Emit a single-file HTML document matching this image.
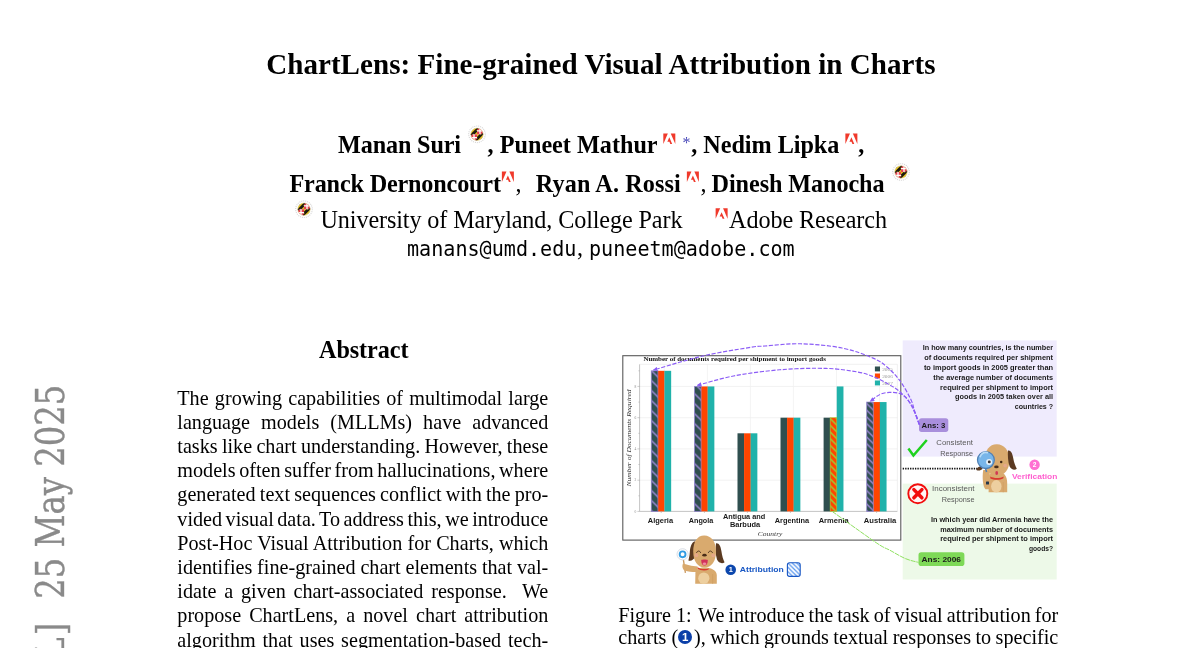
<!DOCTYPE html>
<html lang="en">
<head>
<meta charset="utf-8">
<title>ChartLens: Fine-grained Visual Attribution in Charts</title>
<style>
html,body{margin:0;padding:0;background:#fff;}
body{width:1200px;height:648px;overflow:hidden;position:relative;font-family:"Liberation Serif",serif;color:#000;}
.l{position:absolute;white-space:pre;line-height:1;margin:0;}
.cn{position:absolute;width:14.2px;height:14.2px;border-radius:50%;background:#0b3fa8;color:#fff;font:bold 11.5px/14.4px "Liberation Sans",sans-serif;text-align:center;}
#stamp{position:absolute;left:0;top:0;transform-origin:0 0;font-family:"DejaVu Serif",serif;font-stretch:condensed;font-size:38.8px;color:#8a8a8a;-webkit-text-stroke:0.35px #8a8a8a;white-space:pre;line-height:1;}
svg{position:absolute;overflow:visible;}
</style>
</head>
<body>
<div class="l " style="left:266.20px;top:50.28px;font-size:29.04px;font-weight:bold;letter-spacing:0.046px;">ChartLens: Fine-grained Visual Attribution in Charts</div>
<div class="l " style="left:338.00px;top:133.33px;font-size:24.2px;font-weight:bold;letter-spacing:-0.148px;">Manan Suri</div>
<div class="l " style="left:487.60px;top:133.33px;font-size:24.2px;font-weight:bold;letter-spacing:0.002px;">, Puneet Mathur</div>
<div class="l " style="left:691.20px;top:133.33px;font-size:24.2px;font-weight:bold;letter-spacing:-0.026px;">, Nedim Lipka</div>
<div class="l " style="left:858.30px;top:133.33px;font-size:24.2px;font-weight:bold;">,</div>
<div class="l " style="left:682.60px;top:134.90px;font-size:16px;color:#4848b8;">*</div>
<div class="l " style="left:289.50px;top:171.53px;font-size:24.2px;font-weight:bold;letter-spacing:-0.165px;">Franck Dernoncourt</div>
<div class="l " style="left:515.60px;top:171.53px;font-size:24.2px;">,</div>
<div class="l " style="left:535.80px;top:171.53px;font-size:24.2px;font-weight:bold;letter-spacing:0.113px;">Ryan A. Rossi</div>
<div class="l " style="left:700.40px;top:171.53px;font-size:24.2px;">,</div>
<div class="l " style="left:711.60px;top:171.53px;font-size:24.2px;font-weight:bold;letter-spacing:-0.081px;">Dinesh Manocha</div>
<div class="l " style="left:320.50px;top:207.83px;font-size:24.2px;letter-spacing:-0.117px;">University of Maryland, College Park</div>
<div class="l " style="left:729.00px;top:207.83px;font-size:24.2px;letter-spacing:-0.090px;">Adobe Research</div>
<div class="l" style="left:407.30px;top:238.40px;font-size:21.4px;font-family:'DejaVu Sans Mono', 'Liberation Mono', monospace;transform-origin:0 0;transform:scaleX(0.9396);">manans@umd.edu</div>
<div class="l " style="left:577.00px;top:235.83px;font-size:24.2px;">,</div>
<div class="l" style="left:588.60px;top:238.40px;font-size:21.4px;font-family:'DejaVu Sans Mono', 'Liberation Mono', monospace;transform-origin:0 0;transform:scaleX(0.9395);">puneetm@adobe.com</div>
<div class="l " style="left:319.00px;top:338.13px;font-size:24.2px;font-weight:bold;letter-spacing:-0.074px;">Abstract</div>
<div class="l " style="left:177.30px;top:387.51px;font-size:20.17px;word-spacing:1.169px;">The growing capabilities of multimodal large</div>
<div class="l " style="left:177.30px;top:411.71px;font-size:20.17px;word-spacing:5.992px;">language models (MLLMs) have advanced</div>
<div class="l " style="left:177.30px;top:435.91px;font-size:20.17px;word-spacing:-0.756px;">tasks like chart understanding. However, these</div>
<div class="l " style="left:177.30px;top:460.11px;font-size:20.17px;word-spacing:-1.403px;">models often suffer from hallucinations, where</div>
<div class="l " style="left:177.30px;top:484.31px;font-size:20.17px;word-spacing:-0.852px;">generated text sequences conflict with the pro-</div>
<div class="l " style="left:177.30px;top:508.51px;font-size:20.17px;word-spacing:-1.525px;">vided visual data. To address this, we introduce</div>
<div class="l " style="left:177.30px;top:532.71px;font-size:20.17px;word-spacing:0.166px;">Post-Hoc Visual Attribution for Charts, which</div>
<div class="l " style="left:177.30px;top:556.91px;font-size:20.17px;word-spacing:-0.237px;">identifies fine-grained chart elements that val-</div>
<div class="l " style="left:177.30px;top:581.11px;font-size:20.17px;word-spacing:2.747px;">idate a given chart-associated response.&nbsp; We</div>
<div class="l " style="left:177.30px;top:605.31px;font-size:20.17px;word-spacing:3.000px;">propose ChartLens, a novel chart attribution</div>
<div class="l " style="left:177.30px;top:629.51px;font-size:20.17px;word-spacing:1.793px;">algorithm that uses segmentation-based tech-</div>
<div class="l " style="left:618.30px;top:604.51px;font-size:20.17px;">Figure 1:</div>
<div class="l " style="left:698.00px;top:604.51px;font-size:20.17px;word-spacing:-0.995px;">We introduce the task of visual attribution for</div>
<div class="l " style="left:618.30px;top:627.01px;font-size:20.17px;">charts (</div>
<div class="cn" style="left:678.2px;top:630.1px;">1</div>
<div class="l " style="left:694.00px;top:627.01px;font-size:20.17px;word-spacing:-0.578px;">), which grounds textual responses to specific</div>
<svg style="left:0;top:100px;" width="1200" height="140" viewBox="0 100 1200 140">
<defs>
<clipPath id="gc"><circle cx="0" cy="0" r="6.2"/></clipPath>
<g id="umd">
<circle cx="0" cy="0" r="8.3" fill="#fff" stroke="#cfcfcf" stroke-width="1.1" stroke-dasharray="1.1 0.9" opacity="0.8"/>
<g clip-path="url(#gc)">
<rect x="-7" y="-7" width="7" height="7" fill="#e6c21c"/>
<rect x="0" y="0" width="7" height="7" fill="#e6c21c"/>
<rect x="0" y="-7" width="7" height="7" fill="#e4414c"/>
<rect x="-7" y="0" width="7" height="7" fill="#e4414c"/>
<path d="M-7,-3 L-3,-7 M-7,1.5 L1.5,-7 M-3.4,-0.2 L-0.2,-3.4" stroke="#1c1a10" stroke-width="1.5"/>
<path d="M0.2,3.4 L3.4,0.2 M-1.5,7 L7,-1.5 M3,7 L7,3" stroke="#1c1a10" stroke-width="1.5"/>
<path d="M3,-7 V0 M0,-3.4 H7" stroke="#fff" stroke-width="1.3"/>
<path d="M-3,0 V7 M-7,3.4 H0" stroke="#fff" stroke-width="1.3"/>
</g>
<circle cx="0" cy="0" r="6.2" fill="none" stroke="#d9c98a" stroke-width="0.5"/>
</g>
<g id="adobe" fill="#f0392b">
<polygon points="11.4,0 0,0 0,26"/>
<polygon points="18.6,0 30,0 30,26"/>
<polygon points="15,9.6 22.2,26 17.5,26 15.3,20.6 10.1,20.6"/>
</g>
</defs>
<use href="#umd" transform="translate(477.0,134.3)"/>
<use href="#umd" transform="translate(901.0,172.0)"/>
<use href="#umd" transform="translate(304.0,209.2)"/>
<use href="#adobe" transform="translate(663.3000000000001,133.5) scale(0.4000)"/>
<use href="#adobe" transform="translate(845.4000000000001,133.5) scale(0.4000)"/>
<use href="#adobe" transform="translate(501.9,171.6) scale(0.4000)"/>
<use href="#adobe" transform="translate(686.9000000000001,171.6) scale(0.4000)"/>
<use href="#adobe" transform="translate(715.6,208.3) scale(0.4000)"/>
</svg>
<svg style="left:600px;top:330px;filter:blur(0.3px);" width="480" height="262" viewBox="600 330 480 262">
<defs>
<pattern id="hp" width="10" height="10" patternUnits="userSpaceOnUse" x="651.3" y="370.4"><path d="M-2,-2 L12,12 M-2,-12 L12,2 M-2,8 L12,22" stroke="#a98de6" stroke-width="1.25" fill="none"/></pattern>
<pattern id="hg" width="6.7" height="6.7" patternUnits="userSpaceOnUse" x="830.2" y="418.6"><path d="M-2,-2 L8.7,8.7 M-2,-8.7 L8.7,2 M-2,4.7 L8.7,15.4" stroke="#9ad033" stroke-width="1.5" fill="none"/></pattern>
<pattern id="hp2" width="6.7" height="6.7" patternUnits="userSpaceOnUse" x="866.7" y="403.5"><path d="M-2,-2 L8.7,8.7 M-2,-8.7 L8.7,2 M-2,4.7 L8.7,15.4" stroke="#a98de6" stroke-width="1.2" fill="none"/></pattern>
<pattern id="hb" width="4.4" height="4.4" patternUnits="userSpaceOnUse" x="787" y="562"><path d="M-1,-1 L5.4,5.4 M-1,-5.4 L5.4,1 M-1,3.4 L5.4,9.8" stroke="#5a97ee" stroke-width="1.25" fill="none"/></pattern>
<marker id="ah" viewBox="0 0 10 10" refX="8" refY="5" markerWidth="4.2" markerHeight="4.2" orient="auto"><path d="M0,0.5 L10,5 L0,9.5 z" fill="#8b5cf6"/></marker>
</defs>
<rect x="902.7" y="340.4" width="154" height="116.2" fill="#efebfd"/>
<rect x="902.7" y="483.6" width="154" height="95.9" fill="#edf9e8"/>
<rect x="622.8" y="355.7" width="278" height="184.4" fill="#fff" stroke="#5a5a5a" stroke-width="1.1"/>
<line x1="639.6" y1="480.2" x2="897.4" y2="480.2" stroke="#ececec" stroke-width="0.7"/>
<line x1="639.6" y1="448.9" x2="897.4" y2="448.9" stroke="#ececec" stroke-width="0.7"/>
<line x1="639.6" y1="417.7" x2="897.4" y2="417.7" stroke="#ececec" stroke-width="0.7"/>
<line x1="639.6" y1="386.4" x2="897.4" y2="386.4" stroke="#ececec" stroke-width="0.7"/>
<line x1="664.2" y1="364.3" x2="664.2" y2="511.4" stroke="#efefef" stroke-width="0.7"/>
<line x1="707.4" y1="364.3" x2="707.4" y2="511.4" stroke="#efefef" stroke-width="0.7"/>
<line x1="750.4" y1="364.3" x2="750.4" y2="511.4" stroke="#efefef" stroke-width="0.7"/>
<line x1="793.4" y1="364.3" x2="793.4" y2="511.4" stroke="#efefef" stroke-width="0.7"/>
<line x1="836.5" y1="364.3" x2="836.5" y2="511.4" stroke="#efefef" stroke-width="0.7"/>
<line x1="879.6" y1="364.3" x2="879.6" y2="511.4" stroke="#efefef" stroke-width="0.7"/>
<path d="M639.6,364.3 V511.4 H897.4" fill="none" stroke="#b5b5b5" stroke-width="0.8"/>
<path d="M639.6,364.3 H897.4 V511.4" fill="none" stroke="#e6e6e6" stroke-width="0.6"/>
<line x1="637.4" y1="511.4" x2="639.6" y2="511.4" stroke="#9a9a9a" stroke-width="0.5"/>
<text x="636.4" y="512.6" font-family="'Liberation Serif', serif" font-size="3.6" fill="#8a8a8a" text-anchor="end">0</text>
<line x1="638.4" y1="495.8" x2="639.6" y2="495.8" stroke="#9a9a9a" stroke-width="0.5"/>
<line x1="637.4" y1="480.2" x2="639.6" y2="480.2" stroke="#9a9a9a" stroke-width="0.5"/>
<text x="636.4" y="481.4" font-family="'Liberation Serif', serif" font-size="3.6" fill="#8a8a8a" text-anchor="end">2</text>
<line x1="638.4" y1="464.5" x2="639.6" y2="464.5" stroke="#9a9a9a" stroke-width="0.5"/>
<line x1="637.4" y1="448.9" x2="639.6" y2="448.9" stroke="#9a9a9a" stroke-width="0.5"/>
<text x="636.4" y="450.1" font-family="'Liberation Serif', serif" font-size="3.6" fill="#8a8a8a" text-anchor="end">4</text>
<line x1="638.4" y1="433.3" x2="639.6" y2="433.3" stroke="#9a9a9a" stroke-width="0.5"/>
<line x1="637.4" y1="417.7" x2="639.6" y2="417.7" stroke="#9a9a9a" stroke-width="0.5"/>
<text x="636.4" y="418.9" font-family="'Liberation Serif', serif" font-size="3.6" fill="#8a8a8a" text-anchor="end">6</text>
<line x1="638.4" y1="402.1" x2="639.6" y2="402.1" stroke="#9a9a9a" stroke-width="0.5"/>
<line x1="637.4" y1="386.4" x2="639.6" y2="386.4" stroke="#9a9a9a" stroke-width="0.5"/>
<text x="636.4" y="387.6" font-family="'Liberation Serif', serif" font-size="3.6" fill="#8a8a8a" text-anchor="end">8</text>
<line x1="638.4" y1="370.8" x2="639.6" y2="370.8" stroke="#9a9a9a" stroke-width="0.5"/>
<rect x="651.30" y="370.82" width="6.72" height="140.58" fill="#2f4f4f"/>
<rect x="657.87" y="370.82" width="6.72" height="140.58" fill="#ff4500"/>
<rect x="664.44" y="370.82" width="6.72" height="140.58" fill="#20b2aa"/>
<rect x="694.50" y="386.44" width="6.72" height="124.96" fill="#2f4f4f"/>
<rect x="701.07" y="386.44" width="6.72" height="124.96" fill="#ff4500"/>
<rect x="707.64" y="386.44" width="6.72" height="124.96" fill="#20b2aa"/>
<rect x="737.50" y="433.30" width="6.72" height="78.10" fill="#2f4f4f"/>
<rect x="744.07" y="433.30" width="6.72" height="78.10" fill="#ff4500"/>
<rect x="750.64" y="433.30" width="6.72" height="78.10" fill="#20b2aa"/>
<rect x="780.50" y="417.68" width="6.72" height="93.72" fill="#2f4f4f"/>
<rect x="787.07" y="417.68" width="6.72" height="93.72" fill="#ff4500"/>
<rect x="793.64" y="417.68" width="6.72" height="93.72" fill="#20b2aa"/>
<rect x="823.60" y="417.68" width="6.72" height="93.72" fill="#2f4f4f"/>
<rect x="830.17" y="417.68" width="6.72" height="93.72" fill="#ff4500"/>
<rect x="836.74" y="386.44" width="6.72" height="124.96" fill="#20b2aa"/>
<rect x="866.70" y="402.06" width="6.72" height="109.34" fill="#2f4f4f"/>
<rect x="873.27" y="402.06" width="6.72" height="109.34" fill="#ff4500"/>
<rect x="879.84" y="402.06" width="6.72" height="109.34" fill="#20b2aa"/>
<rect x="651.30" y="370.82" width="6.57" height="140.58" fill="url(#hp)" stroke="#8f7fd0" stroke-opacity="0.75" stroke-width="0.9"/>
<rect x="694.50" y="386.44" width="6.57" height="124.96" fill="url(#hp)" stroke="#8f7fd0" stroke-opacity="0.75" stroke-width="0.9"/>
<rect x="866.70" y="402.06" width="6.57" height="109.34" fill="url(#hp2)" stroke="#8f7fd0" stroke-opacity="0.75" stroke-width="0.9"/>
<rect x="830.17" y="417.68" width="6.57" height="93.72" fill="url(#hg)" stroke="#9ad033" stroke-opacity="0.7" stroke-width="0.8"/>
<line x1="661.2" y1="511.4" x2="661.2" y2="513.0" stroke="#9a9a9a" stroke-width="0.5"/>
<line x1="704.4" y1="511.4" x2="704.4" y2="513.0" stroke="#9a9a9a" stroke-width="0.5"/>
<line x1="747.4" y1="511.4" x2="747.4" y2="513.0" stroke="#9a9a9a" stroke-width="0.5"/>
<line x1="790.4" y1="511.4" x2="790.4" y2="513.0" stroke="#9a9a9a" stroke-width="0.5"/>
<line x1="833.5" y1="511.4" x2="833.5" y2="513.0" stroke="#9a9a9a" stroke-width="0.5"/>
<line x1="876.6" y1="511.4" x2="876.6" y2="513.0" stroke="#9a9a9a" stroke-width="0.5"/>
<text x="643.4" y="360.6" font-family="'Liberation Serif', serif" font-weight="bold" font-size="6.4" fill="#111" textLength="182.5" lengthAdjust="spacingAndGlyphs">Number of documents required per shipment to import goods</text>
<text transform="translate(631.2,486.5) rotate(-90)" font-family="'Liberation Serif', serif" font-style="italic" font-size="6.6" fill="#333" textLength="97" lengthAdjust="spacingAndGlyphs">Number of Documents Required</text>
<text x="757.8" y="536.3" font-family="'Liberation Serif', serif" font-style="italic" font-size="7" fill="#333" textLength="24.6" lengthAdjust="spacingAndGlyphs">Country</text>
<rect x="874.9" y="366.5" width="5.1" height="4.9" fill="#2f4f4f"/>
<text x="882.2" y="370.7" font-family="'Liberation Serif', serif" font-size="4.6" fill="#9a9a9a" textLength="10.6" lengthAdjust="spacingAndGlyphs">2005</text>
<rect x="874.9" y="373.5" width="5.1" height="4.9" fill="#ff4500"/>
<text x="882.2" y="377.7" font-family="'Liberation Serif', serif" font-size="4.6" fill="#9a9a9a" textLength="10.6" lengthAdjust="spacingAndGlyphs">2006</text>
<rect x="874.9" y="380.5" width="5.1" height="4.9" fill="#20b2aa"/>
<text x="882.2" y="384.7" font-family="'Liberation Serif', serif" font-size="4.6" fill="#9a9a9a" textLength="10.6" lengthAdjust="spacingAndGlyphs">2007</text>
<text x="647.8" y="523.1" font-family="'Liberation Sans', sans-serif" font-weight="bold" font-size="7.8" fill="#1a1a1a" textLength="25.3" lengthAdjust="spacingAndGlyphs">Algeria</text>
<text x="688.8" y="523.1" font-family="'Liberation Sans', sans-serif" font-weight="bold" font-size="7.8" fill="#1a1a1a" textLength="24.5" lengthAdjust="spacingAndGlyphs">Angola</text>
<text x="722.9" y="519.2" font-family="'Liberation Sans', sans-serif" font-weight="bold" font-size="7.8" fill="#1a1a1a" textLength="42.4" lengthAdjust="spacingAndGlyphs">Antigua and</text>
<text x="730.0" y="526.7" font-family="'Liberation Sans', sans-serif" font-weight="bold" font-size="7.8" fill="#1a1a1a" textLength="30.1" lengthAdjust="spacingAndGlyphs">Barbuda</text>
<text x="774.8" y="523.1" font-family="'Liberation Sans', sans-serif" font-weight="bold" font-size="7.8" fill="#1a1a1a" textLength="34.4" lengthAdjust="spacingAndGlyphs">Argentina</text>
<text x="818.7" y="523.1" font-family="'Liberation Sans', sans-serif" font-weight="bold" font-size="7.8" fill="#1a1a1a" textLength="30.1" lengthAdjust="spacingAndGlyphs">Armenia</text>
<text x="863.8" y="523.1" font-family="'Liberation Sans', sans-serif" font-weight="bold" font-size="7.8" fill="#1a1a1a" textLength="32.5" lengthAdjust="spacingAndGlyphs">Australia</text>
<text x="922.7" y="350.1" font-family="'Liberation Sans', sans-serif" font-weight="bold" font-size="6.9" fill="#1a1a1a" textLength="130.4" lengthAdjust="spacingAndGlyphs">In how many countries, is the number</text>
<text x="924.2" y="360.0" font-family="'Liberation Sans', sans-serif" font-weight="bold" font-size="6.9" fill="#1a1a1a" textLength="128.9" lengthAdjust="spacingAndGlyphs">of documents required per shipment</text>
<text x="923.9" y="369.8" font-family="'Liberation Sans', sans-serif" font-weight="bold" font-size="6.9" fill="#1a1a1a" textLength="129.2" lengthAdjust="spacingAndGlyphs">to import goods in 2005 greater than</text>
<text x="933.2" y="379.7" font-family="'Liberation Sans', sans-serif" font-weight="bold" font-size="6.9" fill="#1a1a1a" textLength="119.9" lengthAdjust="spacingAndGlyphs">the average number of documents</text>
<text x="940.1" y="389.5" font-family="'Liberation Sans', sans-serif" font-weight="bold" font-size="6.9" fill="#1a1a1a" textLength="113.0" lengthAdjust="spacingAndGlyphs">required per shipment to import</text>
<text x="955.1" y="399.4" font-family="'Liberation Sans', sans-serif" font-weight="bold" font-size="6.9" fill="#1a1a1a" textLength="98.0" lengthAdjust="spacingAndGlyphs">goods in 2005 taken over all</text>
<text x="1014.8" y="409.2" font-family="'Liberation Sans', sans-serif" font-weight="bold" font-size="6.9" fill="#1a1a1a" textLength="38.3" lengthAdjust="spacingAndGlyphs">countries ?</text>
<text x="930.9" y="522.0" font-family="'Liberation Sans', sans-serif" font-weight="bold" font-size="6.9" fill="#1a1a1a" textLength="122.2" lengthAdjust="spacingAndGlyphs">In which year did Armenia have the</text>
<text x="940.2" y="531.5" font-family="'Liberation Sans', sans-serif" font-weight="bold" font-size="6.9" fill="#1a1a1a" textLength="112.9" lengthAdjust="spacingAndGlyphs">maximum number of documents</text>
<text x="940.2" y="540.9" font-family="'Liberation Sans', sans-serif" font-weight="bold" font-size="6.9" fill="#1a1a1a" textLength="112.9" lengthAdjust="spacingAndGlyphs">required per shipment to import</text>
<text x="1028.9" y="550.6" font-family="'Liberation Sans', sans-serif" font-weight="bold" font-size="6.9" fill="#1a1a1a" textLength="24.2" lengthAdjust="spacingAndGlyphs">goods?</text>
<rect x="919" y="418.3" width="29.3" height="13.6" rx="2.6" fill="#a98fdc"/>
<text x="921.6" y="427.6" font-family="'Liberation Sans', sans-serif" font-weight="bold" font-size="7.6" fill="#1a1a1a" textLength="23.6" lengthAdjust="spacingAndGlyphs">Ans: 3</text>
<rect x="918.5" y="552.2" width="45.9" height="13.8" rx="2.8" fill="#7ed957"/>
<text x="921.6" y="562.0" font-family="'Liberation Sans', sans-serif" font-weight="bold" font-size="7.6" fill="#1a1a1a" textLength="39.4" lengthAdjust="spacingAndGlyphs">Ans: 2006</text>
<text x="936.3" y="445.4" font-family="'Liberation Sans', sans-serif" font-weight="normal" font-size="7.3" fill="#595959" textLength="36.7" lengthAdjust="spacingAndGlyphs">Consistent</text>
<text x="940.2" y="455.9" font-family="'Liberation Sans', sans-serif" font-weight="normal" font-size="7.3" fill="#595959" textLength="32.8" lengthAdjust="spacingAndGlyphs">Response</text>
<text x="932.0" y="491.0" font-family="'Liberation Sans', sans-serif" font-weight="normal" font-size="7.3" fill="#595959" textLength="42.6" lengthAdjust="spacingAndGlyphs">Inconsistent</text>
<text x="941.7" y="501.7" font-family="'Liberation Sans', sans-serif" font-weight="normal" font-size="7.3" fill="#595959" textLength="32.9" lengthAdjust="spacingAndGlyphs">Response</text>
<path d="M908.4,448.6 L913.4,455.6 L926.8,440" fill="none" stroke="#1fd21f" stroke-width="2.5" stroke-linejoin="miter"/>
<circle cx="917.8" cy="493.7" r="9.5" fill="#fff5f5" stroke="#f20d0d" stroke-width="1.9"/>
<path d="M913.9,489.6 L921.9,497.8 M921.9,489.6 L913.9,497.8" stroke="#f20d0d" stroke-width="3.5" stroke-linecap="round"/>
<line x1="902.7" y1="468.7" x2="977" y2="468.7" stroke="#111" stroke-width="1.7" stroke-dasharray="1.35 1.1"/>
<circle cx="1034.6" cy="464.8" r="5.2" fill="#ff6fd2"/>
<text x="1034.6" y="467.3" font-family="'Liberation Sans', sans-serif" font-weight="bold" font-size="6.6" fill="#fff" text-anchor="middle">2</text>
<text x="1011.9" y="479.0" font-family="'Liberation Sans', sans-serif" font-weight="bold" font-size="7.5" fill="#ff5fcf" textLength="45.5" lengthAdjust="spacingAndGlyphs">Verification</text>
<circle cx="730.7" cy="569.7" r="5.3" fill="#0c47ad"/>
<text x="730.7" y="572.4" font-family="'Liberation Sans', sans-serif" font-weight="bold" font-size="7.4" fill="#fff" text-anchor="middle">1</text>
<text x="739.8" y="571.9" font-family="'Liberation Sans', sans-serif" font-weight="bold" font-size="7.5" fill="#1857c4" textLength="44.0" lengthAdjust="spacingAndGlyphs">Attribution</text>
<rect x="787.4" y="562.8" width="12.8" height="13.6" rx="2.2" fill="url(#hb)" stroke="#1857c4" stroke-width="1.1"/>
<path d="M919.3,424.6 C918.5,422.5 916.1,416.3 914.7,412.2 C913.4,408.1 913.6,405.4 911.2,400.2 C908.8,395.0 904.1,386.5 900.1,381.0 C896.1,375.5 891.5,370.8 887.0,367.0 C882.5,363.2 880.5,361.3 873.0,358.1 C865.5,354.9 854.1,350.4 842.0,348.0 C829.9,345.6 813.3,344.1 800.5,343.8 C787.7,343.5 773.6,345.4 765.0,346.0 C756.4,346.6 759.3,345.9 748.9,347.6 C738.5,349.3 718.5,352.3 702.6,356.0 C686.7,359.7 661.8,367.7 653.6,370.0" stroke="#8b5cf6" stroke-width="1.15" fill="none" stroke-dasharray="4.2 1.6" marker-end="url(#ah)"/>
<path d="M919.3,424.6 C918.5,422.6 916.5,416.3 914.7,412.4 C912.9,408.5 911.1,404.6 908.5,401.0 C905.9,397.4 902.3,393.8 899.0,391.0 C895.7,388.2 892.8,386.6 888.5,384.2 C884.2,381.8 878.1,378.5 873.0,376.5 C867.9,374.5 865.4,373.4 857.6,372.0 C849.8,370.6 839.0,368.8 826.0,368.4 C813.0,368.0 795.2,368.5 779.8,369.8 C764.4,371.1 747.2,373.4 733.5,376.0 C719.8,378.6 703.6,383.8 697.6,385.3" stroke="#8b5cf6" stroke-width="1.15" fill="none" stroke-dasharray="4.2 1.6" marker-end="url(#ah)"/>
<path d="M919.3,424.6 C918.7,422.8 917.0,417.1 915.8,414.0 C914.6,410.9 914.0,408.9 912.2,406.0 C910.4,403.1 907.5,398.8 905.0,396.6 C902.5,394.4 900.1,393.7 897.5,393.0 C894.9,392.3 892.4,392.2 889.5,392.4 C886.6,392.6 883.2,392.9 880.0,394.4 C876.8,395.9 872.0,400.1 870.4,401.2" stroke="#8b5cf6" stroke-width="1.15" fill="none" stroke-dasharray="4.2 1.6" marker-end="url(#ah)"/>
<path d="M832.2,511.4 C836.2,514.2 848.1,522.9 856.0,528.5 C863.9,534.1 874.0,541.4 879.7,545.0 C885.4,548.6 885.7,548.0 890.0,550.3 C894.3,552.6 900.6,556.6 905.4,558.6 C910.1,560.6 916.3,561.8 918.5,562.4" stroke="#8fe060" stroke-width="1.0" fill="none" stroke-dasharray="5 0.8"/>
<path d="M988.6,492.3 L988.9,481 C988,476 990,471 997,471 C1004,471 1007.4,477 1007.2,483 L1007.2,492.3 Z" fill="#d9aa6e"/>
<ellipse cx="996.3" cy="486.3" rx="5.2" ry="6.2" fill="#edcf9f"/>
<path d="M1003.2,482 L1003.2,492.3" stroke="#cf9e62" stroke-width="0.7"/>
<path d="M983.2,470 C982,478 983,487 985.5,489.2 L989.6,489.2 C990.6,483 990,476 989.5,470 Z" fill="#d9aa6e"/>
<rect x="986.0" y="481.4" width="3.0" height="3.0" rx="0.5" fill="#26384c"/>
<path d="M981.2,466.6 C978.5,466.4 976.6,468 976.4,470 C978.5,471.2 981,470.4 982.6,468.8 Z" fill="#5b3a21"/>
<path d="M997,444.3 C990,444 984.6,450 984.6,460 C984.6,470 989.5,475.6 997,475.6 C1004.5,475.6 1009.4,470 1009.4,460 C1009.4,450 1004,444.6 997,444.3 Z" fill="#d9aa6e"/>
<path d="M1008.0,450.6 C1010.6,450 1012.4,453 1013.2,458 C1014,463 1015.6,466.4 1016.8,468.8 C1014.6,471 1011,469.4 1009.6,466.6 C1008.0,462 1007.6,455 1008.0,450.6 Z" fill="#5b3a21"/>
<circle cx="1001.2" cy="461.9" r="1.25" fill="#3d2614"/>
<ellipse cx="996.4" cy="466.9" rx="2.3" ry="1.45" fill="#4a2d18"/>
<circle cx="1005.2" cy="465.6" r="1.9" fill="#e8a890" opacity="0.8"/>
<ellipse cx="996.7" cy="473.0" rx="1.4" ry="2.1" fill="#d23a55"/>
<path d="M990.2,476.6 C994,478.6 1000,478.6 1003.6,476.4 L1003.4,478.2 C1000,480.2 994,480.2 990.4,478.4 Z" fill="#d8392f"/>
<circle cx="985.9" cy="460.1" r="8.4" fill="#78b6ea" stroke="#4f7fb4" stroke-width="1.3"/>
<path d="M980.2,456.6 C981.4,453.6 984.4,452 987.4,452.6" stroke="#b9dcf7" stroke-width="1.6" fill="none" stroke-linecap="round"/>
<circle cx="989.1" cy="461.9" r="3.0" fill="#e9f1f8"/>
<circle cx="989.3" cy="461.9" r="1.45" fill="#33302f"/>
<path d="M985.6,468.6 L986.6,472" stroke="#4f7fb4" stroke-width="1.6"/>
<path d="M683.4,559.6 L685.4,572.8" stroke="#c9975c" stroke-width="1.3"/>
<path d="M695.2,583.8 L695.4,574 C695,570 698,567.4 704,567.4 C711,567.4 716.6,570 716.8,575 L716.8,583.8 Z" fill="#d9aa6e"/>
<ellipse cx="703.8" cy="578.2" rx="5.6" ry="5.8" fill="#edcf9f"/>
<path d="M712.6,574 L712.6,583.8" stroke="#cf9e62" stroke-width="0.7"/>
<path d="M697.6,566.6 C692,566.4 686,564.6 683,563.6 C681.8,566 682.6,569.4 684.4,570.4 C689,571.6 694,572.4 697.6,572 Z" fill="#d9aa6e"/>
<path d="M695.0,541.2 C691.6,542 690.2,547 689.8,552 C689.6,556 688.8,558.6 688.4,560.4 C691,561.4 694,559.6 695.2,556.4 C696.4,551 696,545 695.0,541.2 Z" fill="#5b3a21"/>
<path d="M716.0,543.2 C719.2,542.8 720.6,546 721.4,551 C722,556 723.4,560 724.6,562.2 C722.2,564.4 718.4,562.8 717,559.6 C715.4,554 715.4,548 716.0,543.2 Z" fill="#5b3a21"/>
<path d="M704.4,535.6 C697.6,535.4 693.2,541.6 693.2,551.6 C693.2,561.6 698,567.6 704.6,567.6 C711.4,567.6 716,561.6 716,551.6 C716,541.6 711.2,535.8 704.4,535.6 Z" fill="#d9aa6e"/>
<path d="M696.6,552.6 C697.4,550.4 699.8,550.4 700.6,552.6" stroke="#3d2614" stroke-width="0.85" fill="none" stroke-linecap="round"/>
<path d="M708.4,552.6 C709.2,550.4 711.6,550.4 712.4,552.6" stroke="#3d2614" stroke-width="0.85" fill="none" stroke-linecap="round"/>
<ellipse cx="704.5" cy="555.2" rx="2.2" ry="1.4" fill="#4a2d18"/>
<circle cx="696.4" cy="555.2" r="1.9" fill="#e8a890" opacity="0.8"/>
<circle cx="713.2" cy="555.4" r="1.9" fill="#e8a890" opacity="0.8"/>
<path d="M701.2,560 C702.4,559.2 706.6,559.2 707.8,560 C707.8,563.6 706.4,565.6 704.5,565.6 C702.6,565.6 701.2,563.6 701.2,560 Z" fill="#d2325a"/>
<ellipse cx="704.5" cy="563.8" rx="1.8" ry="1.3" fill="#f08aa0"/>
<path d="M697.6,567.2 C700.6,569.4 706,569.6 708.8,568.2 L708.6,569.6 C705.6,571 700.4,570.8 697.4,568.6 Z" fill="#d8392f"/>
<circle cx="682.6" cy="554.3" r="5.6" fill="#fdfdfd" stroke="#d4d9e2" stroke-width="0.9"/>
<circle cx="682.6" cy="554.3" r="2.9" fill="none" stroke="#2f9be3" stroke-width="1.9"/>
</svg>
<div id="stamp" style="transform:translate(32.1px,1091.9px) rotate(-90deg) scaleX(0.924);">arXiv:2505.19360v1  [cs.CL<span style="margin-left:2.1px;margin-right:3.85px">]</span>  25 May 2025</div>
</body>
</html>
